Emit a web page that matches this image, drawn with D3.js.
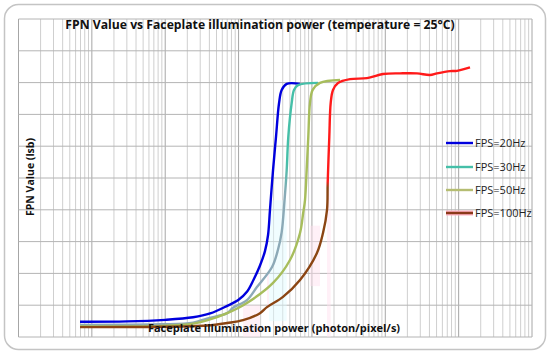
<!DOCTYPE html>
<html><head><meta charset="utf-8">
<script src="https://cdn.jsdelivr.net/npm/d3@7"></script>
<style>body{margin:0;background:#fff}svg{display:block}</style>
</head><body>
<svg id="c" width="550" height="356"></svg>
<script>
// ---- data ----
const title = "FPN Value vs Faceplate illumination power (temperature = 25°C)";
const xLabel = "Faceplate illumination power (photon/pixel/s)";
const yLabel = "FPN Value (lsb)";
const seriesNames = ["FPS=20Hz", "FPS=30Hz", "FPS=50Hz", "FPS=100Hz"];
const xDomain = [1, 1e7];
const yDomain = [0, 10];

const fps20x = [6.9, 30, 100, 240, 410, 700, 1000, 1300, 1600, 1960, 2290, 2520, 2680, 2950, 3240, 3560, 3870, 4530, 6900];
const fps20y = [0.48, 0.49, 0.54, 0.62, 0.74, 0.98, 1.17, 1.42, 1.8, 2.25, 2.7, 3.2, 4.0, 5.25, 6.3, 7.35, 7.77, 7.96, 7.96];

const fps30x = [6.9, 85, 240, 370, 700, 840, 1300, 1780, 2860, 3450, 3870, 4200, 4530, 4760, 5300, 5700, 6460, 12100];
const fps30y = [0.38, 0.40, 0.45, 0.58, 0.75, 0.92, 1.16, 1.57, 2.2, 2.75, 3.3, 4.2, 5.25, 6.29, 7.36, 7.77, 7.92, 7.99];

const fps50x = [6.9, 85, 240, 370, 700, 1300, 2950, 5020, 6880, 7600, 8040, 8480, 8920, 9410, 10240, 12880, 24150];
const fps50y = [0.33, 0.35, 0.42, 0.52, 0.75, 1.07, 1.70, 2.42, 3.27, 3.9, 4.3, 5.25, 6.29, 7.36, 7.77, 7.99, 8.08];

const fps100x = [6.9, 85, 370, 700, 1150, 1960, 2440, 4030, 6880, 11700, 14160, 16060, 16400, 17250, 18030, 19380, 22650, 33040, 56340, 93100, 158800, 270600, 406500, 506800, 762400, 948500, 1428000];
const fps100y = [0.31, 0.32, 0.36, 0.44, 0.53, 0.75, 0.94, 1.26, 1.79, 2.64, 3.27, 4.0, 4.84, 6.29, 7.36, 7.77, 7.99, 8.11, 8.14, 8.27, 8.29, 8.29, 8.24, 8.29, 8.36, 8.37, 8.48];

const series = [
  {name: seriesNames[0], xs: fps20x, ys: fps20y},
  {name: seriesNames[1], xs: fps30x, ys: fps30y},
  {name: seriesNames[2], xs: fps50x, ys: fps50y},
  {name: seriesNames[3], xs: fps100x, ys: fps100y}
];

// ---- drawing ----
const svg = d3.select("#c");
const L = 18.5, R = 532, T = 19, B = 337;
const x = d3.scaleLog().domain(xDomain).range([L, R]);
const y = d3.scaleLinear().domain(yDomain).range([B, T]);

// frame
svg.append("rect").attr("x", 4.5).attr("y", 4.5).attr("width", 541).attr("height", 345)
  .attr("rx", 14).attr("fill", "#fff").attr("stroke", "#c4c4c4").attr("stroke-width", 1.5);

// gradients
const defs = svg.append("defs");
function grad(id, stops) {
  const g = defs.append("linearGradient").attr("id", id).attr("gradientUnits", "userSpaceOnUse")
    .attr("x1", 0).attr("x2", 0).attr("y1", B).attr("y2", T);
  stops.forEach(s => g.append("stop").attr("offset", s[0]).attr("stop-color", s[1]));
}
grad("g30", [[0, "#8ea8b8"], [0.45, "#8aaab6"], [0.55, "#45bfa8"], [1, "#45bfa8"]]);
grad("g100", [[0, "#8b4513"], [0.47, "#8b4513"], [0.49, "#ff1a1a"], [1, "#ff1a1a"]]);

// grid
const gx = svg.append("g");
x.ticks().forEach(v => {
  const major = Math.abs(Math.log10(v) - Math.round(Math.log10(v))) < 1e-9;
  gx.append("line").attr("x1", x(v)).attr("x2", x(v)).attr("y1", T).attr("y2", B)
    .attr("stroke", major ? "#a6a6a6" : "#cfcfcf").attr("stroke-width", 1);
});
y.ticks(10).forEach(v => {
  gx.append("line").attr("x1", L).attr("x2", R).attr("y1", y(v)).attr("y2", y(v))
    .attr("stroke", "#b4b4b4").attr("stroke-width", 1);
});

// faint shading behind curves
const shade = svg.append("g").attr("opacity", 0.45);
shade.append("rect").attr("x", x(1150)).attr("y", y(1.0)).attr("width", x(1960) - x(1150)).attr("height", y(0) - y(1.0)).attr("fill", "#ffe0ee");
shade.append("rect").attr("x", x(2440)).attr("y", y(2.0)).attr("width", x(4030) - x(2440)).attr("height", y(0.9) - y(2.0)).attr("fill", "#ffe0ee");
shade.append("rect").attr("x", x(9410)).attr("y", y(3.5)).attr("width", x(12880) - x(9410)).attr("height", y(1.6) - y(3.5)).attr("fill", "#ffe0ee");
shade.append("rect").attr("x", x(16060)).attr("y", y(5.0)).attr("width", x(18030) - x(16060)).attr("height", y(0) - y(5.0)).attr("fill", "#ffe0ee");
shade.append("rect").attr("x", x(2600)).attr("y", y(4.3)).attr("width", x(4530) - x(2600)).attr("height", y(0.5) - y(4.3)).attr("fill", "#e0fbff");

const line = d3.line().x(d => x(d[0])).y(d => y(d[1])).curve(d3.curveCatmullRom.alpha(0.5));
const strokes = ["#0000dd", "url(#g30)", "#a7bd5c", "url(#g100)"];
series.forEach((s, i) => {
  const pts = s.xs.map((v, k) => [v, s.ys[k]]);
  svg.append("path").attr("d", line(pts)).attr("fill", "none")
    .attr("stroke", strokes[i]).attr("stroke-width", 2.4).attr("stroke-linejoin", "round");
});

// legend
const legColors = ["#0000dd", "#45bfa8", "#b5bd72", "#8b3a1a"];
const legY = [143, 167, 190, 213];
seriesNames.forEach((n, i) => {
  if (i === 3) svg.append("line").attr("x1", 446).attr("x2", 473).attr("y1", legY[i]).attr("y2", legY[i])
    .attr("stroke", "#ffb0c0").attr("stroke-width", 5);
  svg.append("line").attr("x1", 446).attr("x2", 473).attr("y1", legY[i]).attr("y2", legY[i])
    .attr("stroke", legColors[i]).attr("stroke-width", 2.4);
  svg.append("text").attr("x", 475).attr("y", legY[i] + 4).text(n)
    .attr("font-family", "Open Sans, sans-serif").attr("font-size", 11).attr("fill", "#222");
});

// texts
svg.append("text").attr("x", 260).attr("y", 29).attr("text-anchor", "middle").text(title)
  .attr("font-family", "Open Sans, sans-serif").attr("font-weight", "bold").attr("font-size", 12.2).attr("fill", "#111");
svg.append("text").attr("x", 274).attr("y", 332).attr("text-anchor", "middle").text(xLabel)
  .attr("font-family", "Open Sans, sans-serif").attr("font-weight", "bold").attr("font-size", 11).attr("fill", "#111");
svg.append("text").attr("transform", "translate(34,177) rotate(-90)").attr("text-anchor", "middle").text(yLabel)
  .attr("font-family", "Open Sans, sans-serif").attr("font-weight", "bold").attr("font-size", 10.5).attr("fill", "#111");
</script>
</body></html>
